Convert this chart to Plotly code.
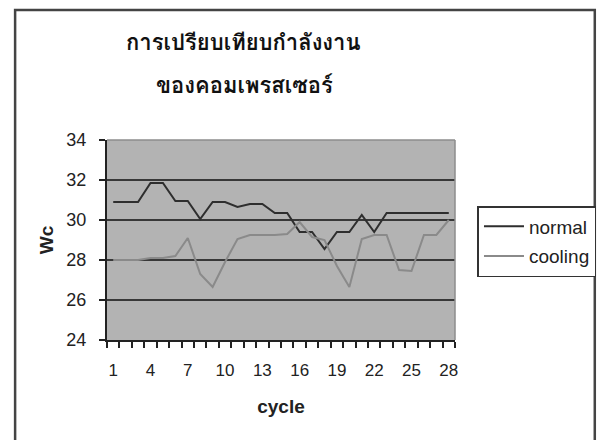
import plotly.graph_objects as go

cycles = list(range(1, 29))
normal = [30.9, 30.9, 30.9, 31.85, 31.85, 30.95, 30.95, 30.05, 30.9, 30.9,
          30.65, 30.8, 30.8, 30.35, 30.35, 29.4, 29.4, 28.55, 29.4, 29.4,
          30.25, 29.4, 30.35, 30.35, 30.35, 30.35, 30.35, 30.35]
cooling = [28.0, 28.0, 28.0, 28.1, 28.1, 28.2, 29.1, 27.3, 26.65, 27.9,
           29.05, 29.25, 29.25, 29.25, 29.3, 29.9, 29.15, 29.0, 27.7, 26.65,
           29.05, 29.25, 29.25, 27.5, 27.45, 29.25, 29.25, 30.0]
x_ticks = [1, 4, 7, 10, 13, 16, 19, 22, 25, 28]
y_ticks = [24, 26, 28, 30, 32, 34]
title_lines = ["การเปรียบเทียบกำลังงาน", "ของคอมเพรสเซอร์"]

W, H = 609, 440
L, R, T, B = 107, 463, 140, 340

def px(x):
    return (x - L) / (R - L)

def py(y):
    return (B - y) / (B - T)

font_fam = "Liberation Sans, Arial, sans-serif"
thai_fam = "Loma, Garuda, Tahoma, Noto Sans Thai Looped, Noto Sans Thai, sans-serif"

fig = go.Figure()
fig.add_trace(go.Scatter(x=cycles, y=normal, mode="lines", name="normal",
                         legendgroup="a",
                         line=dict(color="#2e2e2e", width=2)))
fig.add_trace(go.Scatter(x=cycles, y=cooling, mode="lines", name="cooling",
                         legendgroup="b",
                         line=dict(color="#8a8a8a", width=2)))

fig.update_layout(
    width=W, height=H,
    margin=dict(l=L, r=W - R, t=T, b=H - B, pad=0),
    paper_bgcolor="white",
    plot_bgcolor="#b3b3b3",
    font=dict(family=font_fam, size=17, color="#222"),
    showlegend=True,
    legend=dict(x=px(486), y=py(206), xanchor="left", yanchor="top",
                bordercolor="#333", borderwidth=1.5, bgcolor="white",
                font=dict(size=19, color="#222"), itemwidth=40,
                tracegroupgap=2, traceorder="grouped"),
    xaxis=dict(range=[0.5, 28.5], tickmode="array", tickvals=x_ticks,
               ticks="", showgrid=False, zeroline=False,
               showline=True, linecolor="#222", linewidth=2,
               ticklabelstandoff=14, automargin=False,
               tickfont=dict(size=17, color="#222"),
               minor=dict(tick0=0.5, dtick=1, ticks="outside", ticklen=6,
                          tickcolor="#222", tickwidth=1.5, showgrid=False),
               title=dict(text="<b>cycle</b>", standoff=20,
                          font=dict(size=19, color="#222"))),
    yaxis=dict(range=[24, 34], tickmode="array", tickvals=y_ticks,
               ticks="outside", ticklen=6, tickcolor="#222", tickwidth=1.5,
               showgrid=True, gridcolor="#383838", gridwidth=2,
               zeroline=False, showline=True, linecolor="#222", linewidth=2,
               ticklabelstandoff=9, automargin=False,
               tickfont=dict(size=18, color="#222"),
               title=dict(text="<b>Wc</b>", standoff=8,
                          font=dict(size=19, color="#222"))),
    shapes=[
        dict(type="rect", xref="paper", yref="paper",
             x0=px(13), x1=px(606), y0=py(460), y1=py(10),
             line=dict(color="#444", width=2.5), layer="below"),
        dict(type="line", xref="paper", yref="paper",
             x0=0, x1=1, y0=1, y1=1, line=dict(color="#8c8c8c", width=1.5)),
        dict(type="line", xref="paper", yref="paper",
             x0=1, x1=1, y0=0, y1=1, line=dict(color="#8c8c8c", width=1.5)),
    ],
    annotations=[
        dict(text=title_lines[0], xref="paper", yref="paper",
             x=px(247), y=py(43), xanchor="center", yanchor="middle",
             showarrow=False,
             font=dict(family=thai_fam, size=22, weight=600, color="#111")),
        dict(text=title_lines[1], xref="paper", yref="paper",
             x=px(248), y=py(85), xanchor="center", yanchor="middle",
             showarrow=False,
             font=dict(family=thai_fam, size=22, weight=600, color="#111")),
    ],
)

fig.write_html("out.html", config={"displayModeBar": False},
               post_script="document.body.style.margin='0';document.body.style.padding='0';")
